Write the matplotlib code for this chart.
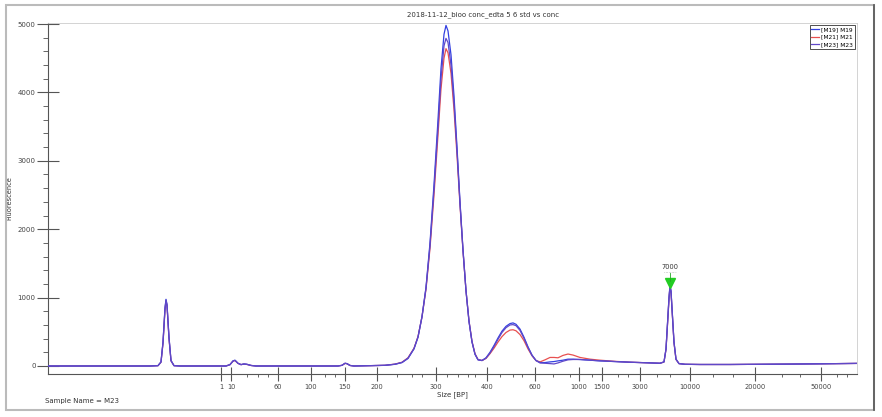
import matplotlib.pyplot as plt
from matplotlib.patches import Rectangle

# migration position (arbitrary units along the run)
pos = [48, 150, 158, 161, 163, 165, 166, 167, 169, 171, 174, 180,
       226, 230, 233, 235, 238, 241, 244, 247, 251, 256,
       338, 342, 345, 347, 350, 354, 370, 385, 395, 402, 408, 414, 418,
       422, 426, 430, 434, 438, 441, 444, 446, 448, 451, 454, 457, 460,
       463, 466, 469, 472, 475, 478, 482, 486, 490, 494, 498, 502, 506,
       510, 513, 516, 520, 524, 528, 532, 536, 540, 545, 550, 554, 558,
       563, 568, 573, 580, 590, 600, 615, 630, 645, 660, 664, 666, 668,
       669, 670, 671, 672, 674, 676, 679, 685, 700, 730, 760, 790, 820, 857]

m19 = [0, 0, 5, 60, 350, 850, 975, 900, 420, 80, 5, 0,
       0, 20, 75, 85, 40, 20, 30, 25, 8, 0,
       0, 10, 40, 35, 8, 0, 5, 10, 25, 50, 110, 250, 420,
       720, 1150, 1800, 2650, 3600, 4350, 4850, 4980, 4900, 4550, 3950, 3200, 2400,
       1700, 1100, 650, 350, 170, 90, 80, 120, 200, 300, 410, 510, 580,
       620, 630, 610, 540, 420, 280, 160, 80, 50, 50, 60, 65, 75,
       85, 100, 100, 95, 85, 75, 65, 55, 48, 40, 60, 250, 750,
       1000, 1180, 1100, 850, 350, 100, 35, 25, 22, 22, 25, 28, 32, 38]

m21 = [0, 0, 5, 55, 330, 820, 950, 880, 400, 75, 5, 0,
       0, 20, 70, 80, 38, 20, 28, 22, 8, 0,
       0, 10, 38, 33, 8, 0, 5, 10, 28, 55, 120, 260, 430,
       720, 1120, 1720, 2500, 3380, 4050, 4500, 4640, 4580, 4280, 3750, 3080, 2350,
       1680, 1100, 660, 360, 180, 95, 80, 110, 180, 260, 350, 430, 490,
       525, 530, 515, 460, 370, 250, 150, 80, 60, 90, 125, 125, 120,
       155, 175, 160, 125, 100, 85, 68, 56, 48, 40, 58, 240, 720,
       980, 1160, 1080, 830, 340, 95, 35, 25, 22, 22, 25, 28, 32, 38]

m23 = [0, 0, 5, 58, 340, 840, 965, 890, 410, 78, 5, 0,
       0, 20, 72, 82, 39, 20, 29, 24, 8, 0,
       0, 10, 39, 34, 8, 0, 5, 10, 26, 52, 115, 255, 425,
       720, 1140, 1760, 2580, 3480, 4200, 4680, 4790, 4730, 4400, 3850, 3150, 2380,
       1690, 1100, 655, 355, 175, 92, 80, 115, 190, 285, 390, 490, 560,
       600, 605, 590, 520, 405, 270, 155, 80, 45, 40, 35, 30, 45,
       70, 90, 95, 95, 85, 75, 65, 55, 48, 40, 60, 245, 740,
       990, 1170, 1090, 840, 345, 98, 35, 25, 22, 22, 25, 28, 32, 38]

# size ladder: labelled sizes and their migration positions
ladder_pos = [221, 231, 278, 311, 345, 377, 436, 487, 535, 579, 602, 640, 690, 755, 821]
ladder_lbl = ['1', '10', '60', '100', '150', '200', '300', '400', '600',
              '1000', '1500', '3000', '10000', '20000', '50000']
minor_pos = [247, 258, 268, 325, 335, 397, 412, 422, 447, 458, 468, 475,
             500, 513, 522, 553, 570, 592, 618, 628, 657, 670, 713, 733,
             782, 800, 837, 847]

marker_pos = 670
marker_val = 1180
marker_lbl = '7000'

fig = plt.figure(figsize=(8.82, 4.17), dpi=100)
ax = fig.add_axes([48 / 882, 43 / 417, 809 / 882, 351 / 417])

ax.plot(pos, m21, color='#e85050', lw=0.9, label='[M21] M21', zorder=2)
ax.plot(pos, m19, color='#3340e0', lw=0.9, label='[M19] M19', zorder=3)
ax.plot(pos, m23, color='#6048c8', lw=0.9, label='[M23] M23', zorder=4)

# upper marker annotation
ax.plot([marker_pos], [marker_val + 30], marker='v', color='#22cc22',
        markersize=7, zorder=5)
ax.plot([marker_pos, marker_pos], [marker_val + 60, marker_val + 180],
        color='#22aa22', lw=0.6, zorder=5)
ax.plot([marker_pos - 6, marker_pos + 6], [marker_val + 200, marker_val + 200],
        color='#888888', lw=0.4, ls=':', zorder=5)
ax.text(marker_pos, marker_val + 230, marker_lbl, ha='center', va='bottom',
        fontsize=4.8, color='#333333')

ax.set_xlim(48, 857)
ax.set_ylim(-117, 5015)

ax.set_yticks(range(0, 5001, 1000))
ax.set_yticks(range(0, 5001, 200), minor=True)
ax.tick_params(axis='y', which='major', direction='inout', length=16,
               width=0.8, color='#555555', labelsize=5, labelcolor='#444444', pad=1)
ax.tick_params(axis='y', which='minor', direction='out', length=3.5,
               width=0.7, color='#666666')

ax.set_xticks(ladder_pos)
ax.set_xticklabels(ladder_lbl)
ax.set_xticks(minor_pos, minor=True)
ax.tick_params(axis='x', which='major', direction='inout', length=10,
               width=0.8, color='#555555', labelsize=4.8, labelcolor='#444444', pad=2)
ax.tick_params(axis='x', which='minor', direction='out', length=2.5,
               width=0.7, color='#666666')

for s in ['left', 'bottom']:
    ax.spines[s].set_color('#555555')
    ax.spines[s].set_linewidth(0.8)
for s in ['top', 'right']:
    ax.spines[s].set_color('#cccccc')
    ax.spines[s].set_linewidth(0.6)

ax.set_xlabel('Size [BP]', fontsize=5, color='#333333', labelpad=1)
ax.set_ylabel('Fluorescence', fontsize=4.8, color='#333333')
ax.yaxis.set_label_coords(-0.044, 0.5)

h, l = ax.get_legend_handles_labels()
order = [1, 0, 2]
leg = ax.legend([h[i] for i in order], [l[i] for i in order], loc='upper right',
                fontsize=4.2, handlelength=1.3, handletextpad=0.4,
                borderpad=0.3, labelspacing=0.45, borderaxespad=0.35,
                fancybox=False, edgecolor='#333333', framealpha=1)
leg.get_frame().set_linewidth(0.6)

fig.text(483 / 882, 1 - 15 / 417, '2018-11-12_bioo conc_edta 5 6 std vs conc',
         ha='center', va='center', fontsize=5, color='#333333')
fig.text(45 / 882, 1 - 401 / 417, 'Sample Name = M23', ha='left', va='center',
         fontsize=5, color='#333333')

# outer frame
fig.patches.append(Rectangle((6 / 882, 7 / 417), 868 / 882, 405 / 417,
                             transform=fig.transFigure, fill=False,
                             edgecolor='#bbbbbb', lw=1.5))
fig.lines.append(plt.Line2D([874 / 882, 874 / 882], [7 / 417, 412 / 417],
                            transform=fig.transFigure, color='#555555', lw=1.2))

fig.savefig('out.png', dpi=100)
